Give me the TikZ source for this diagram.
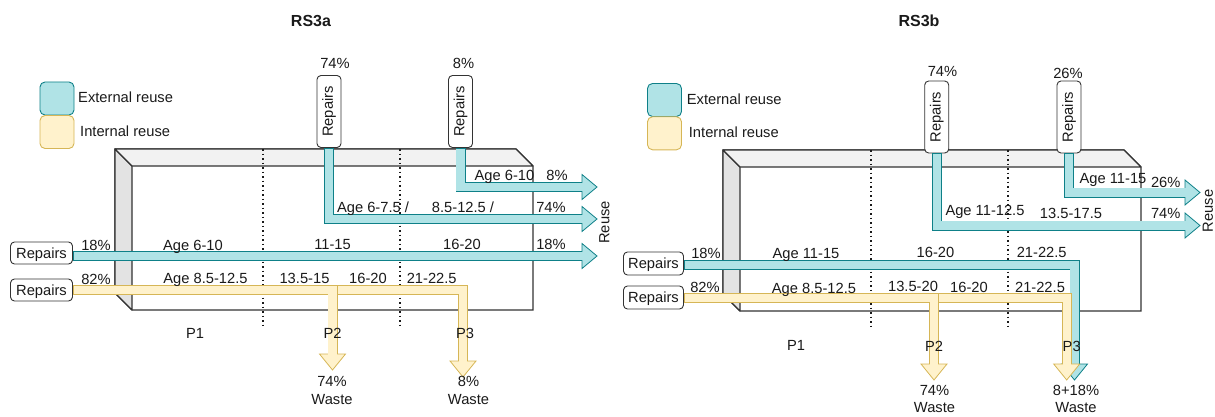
\documentclass[tikz,border=0pt]{standalone}
\usepackage{fontspec}
\usepackage{graphicx}
\setmainfont{Liberation Sans}
\usetikzlibrary{calc}

\definecolor{extfill}{HTML}{B0E3E6}
\definecolor{extline}{HTML}{0E8088}
\definecolor{intfill}{HTML}{FFF2CC}
\definecolor{intline}{HTML}{D6B656}
\definecolor{sideface}{HTML}{E3E3E3}
\definecolor{topface}{HTML}{F2F2F2}
\definecolor{edge}{HTML}{333333}
\definecolor{ink}{HTML}{1A1A1A}

% wide outlined flow arrows: #1 colour prefix, #2 path up to the last bend, #3 tip
\newcommand\flexR[3]{%
  \draw[#1out] #2 -- ($(#3)+(-15,0)$);
  \filldraw[#1head] ($(#3)+(-15,-12.5)$) -- (#3) -- ($(#3)+(-15,12.5)$) -- cycle;
  \draw[#1in] #2 -- ($(#3)+(-14,0)$);}
\newcommand\flexD[3]{%
  \draw[#1out] #2 -- ($(#3)+(0,-16)$);
  \filldraw[#1head] ($(#3)+(-13,-16)$) -- (#3) -- ($(#3)+(13,-16)$) -- cycle;
  \draw[#1in] #2 -- ($(#3)+(0,-15)$);}

\begin{document}
\begin{tikzpicture}[x=1pt, y=-1pt,
  txt/.style={font=\fontsize{14.7}{17.3}\selectfont, inner sep=0pt, text height=10.5pt, text depth=0pt, text=ink},
  ttl/.style={font=\fontsize{16}{19}\selectfont\bfseries, inner sep=0pt, text height=11.5pt, text depth=0pt, text=ink},
  repbox/.style={txt, draw=edge, fill=white, rounded corners=4pt, line width=0.9pt, minimum width=62pt, minimum height=22pt},
  vbox/.style={draw=edge, fill=white, rounded corners=4pt, line width=0.9pt, minimum width=24pt, minimum height=72pt, inner sep=0pt, font=\fontsize{14.7}{17.3}\selectfont, text=ink},
  legext/.style={draw=extline, fill=extfill, rounded corners=5pt, line width=0.9pt, minimum width=34pt, minimum height=33pt},
  legint/.style={draw=intline, fill=intfill, rounded corners=5pt, line width=0.9pt, minimum width=34pt, minimum height=33pt},
  dots/.style={line width=1.5pt, dash pattern=on 1.5pt off 3pt, draw=ink},
  extout/.style={draw=extline, line width=10pt},
  extin/.style={draw=extfill, line width=8.4pt, shorten <=0.8pt},
  exthead/.style={draw=extline, fill=extfill, line width=0.8pt, line join=miter},
  intout/.style={draw=intline, line width=10pt},
  intin/.style={draw=intfill, line width=8.4pt, shorten <=0.8pt},
  inthead/.style={draw=intline, fill=intfill, line width=0.8pt, line join=miter},
  cubebox/.pic={
    \filldraw[draw=edge, fill=white, line width=1.1pt] (0,0) -- (401,0) -- (418,17) -- (418,161) -- (17,161) -- (0,144) -- cycle;
    \filldraw[draw=edge, fill=sideface, line width=1.1pt, line join=round] (0,0) -- (17,17) -- (17,161) -- (0,144) -- cycle;
    \filldraw[draw=edge, fill=topface, line width=1.1pt, line join=round] (0,0) -- (401,0) -- (418,17) -- (17,17) -- cycle;
  }
]
\useasboundingbox (0,0) rectangle (1215,417);

% ===================== RS3a =====================
\node[ttl] (titleA) at (311,21) {RS3a};
\node[legext] (legEA) at (57,98.5) {};
\node[legint] (legIA) at (57,132) {};
\node[txt, anchor=west] (legEAt) at (78,97) {External reuse};
\node[txt, anchor=west] (legIAt) at (80,131) {Internal reuse};

\pic at (115,149) {cubebox};
\draw[dots] (263,149) -- (263,325);
\draw[dots] (400,149) -- (400,325);

\node[vbox] (tA1) at (329,111.5) {\rotatebox{90}{Repairs}};
\node[vbox] (tA2) at (460.5,111.5) {\rotatebox{90}{Repairs}};
\node[repbox] (rA1) at (41.5,253) {Repairs};
\node[repbox] (rA2) at (41.5,290) {Repairs};

\coordinate (eA1) at (597,256);
\coordinate (eA2) at (597,219);
\coordinate (eA3) at (597,187);
\coordinate (wA2) at (332.5,370);
\coordinate (wA3) at (463,377);
\coordinate (jA) at (337,290);

\flexR{ext}{(rA1.east |- eA1)}{eA1}
\flexR{ext}{(tA1.south) -- (tA1.south |- eA2)}{eA2}
\flexR{ext}{(tA2.south) -- (tA2.south |- eA3)}{eA3}
\flexD{int}{(rA2.east) -- (rA2.east -| wA2)}{wA2}
\flexD{int}{(jA) -- (jA -| wA3)}{wA3}

\node[txt] (pA1) at (335,63) {74\%};
\node[txt] (pA2) at (463.5,63) {8\%};
\node[txt] (pA3) at (96,245) {18\%};
\node[txt] (pA4) at (96,279) {82\%};

\node[txt] (aA1) at (193,245) {Age 6-10};
\node[txt] (aA2) at (332.5,244) {11-15};
\node[txt] (aA3) at (462,244) {16-20};
\node[txt] (aA4) at (551,244) {18\%};
\node[txt] (bA1) at (205.5,278) {Age 8.5-12.5};
\node[txt] (bA2) at (304.5,278) {13.5-15};
\node[txt] (bA3) at (368,278) {16-20};
\node[txt] (bA4) at (431.7,278) {21-22.5};
\node[txt] (cA1) at (373,207) {Age 6-7.5 /};
\node[txt] (cA2) at (463,207) {8.5-12.5 /};
\node[txt] (cA3) at (551,207) {74\%};
\node[txt] (dA1) at (504.5,175) {Age 6-10};
\node[txt] (dA2) at (557,175) {8\%};
\node[txt, rotate=90] (reuseA) at (604,222.5) {Reuse};

\node[txt] (phA1) at (195,333) {P1};
\node[txt] (phA2) at (332.5,333) {P2};
\node[txt] (phA3) at (465,333) {P3};
% two-line labels: the node centre sits on the last line
\node[txt, align=center] (wasteA2) at (332,399) {74\%\\Waste};
\node[txt, align=center] (wasteA3) at (468.5,399) {8\%\\Waste};

% ===================== RS3b =====================
\node[ttl] (titleB) at (919,21) {RS3b};
\node[legext] (legEB) at (664.5,100) {};
\node[legint] (legIB) at (664.5,133.3) {};
\node[txt, anchor=west] (legEBt) at (686.7,99.3) {External reuse};
\node[txt, anchor=west] (legIBt) at (688.7,132.7) {Internal reuse};

\pic at (723,150) {cubebox};
\draw[dots] (871,150) -- (871,327);
\draw[dots] (1008,150) -- (1008,327);

\node[vbox] (tB1) at (936.7,117) {\rotatebox{90}{Repairs}};
\node[vbox] (tB2) at (1069,117) {\rotatebox{90}{Repairs}};
\node[repbox, minimum width=60pt, minimum height=23pt] (rB1) at (653.5,263.5) {Repairs};
\node[repbox, minimum width=60pt, minimum height=23pt] (rB2) at (653.5,297.5) {Repairs};

\coordinate (kB1) at (1074.5,265);
\coordinate (wB1) at (1074.5,380);
\coordinate (eB2) at (1200,225.5);
\coordinate (eB3) at (1200,192.5);
\coordinate (wB2) at (934,380);
\coordinate (wB3) at (1066.7,380);
\coordinate (jB) at (938.5,298);

\flexD{ext}{(rB1.east |- kB1) -- (kB1)}{wB1}
\flexR{ext}{(tB1.south) -- (tB1.south |- eB2)}{eB2}
\flexR{ext}{(tB2.south) -- (tB2.south |- eB3)}{eB3}
\flexD{int}{(rB2.east |- jB) -- (jB -| wB2)}{wB2}
\flexD{int}{(jB) -- (jB -| wB3)}{wB3}

\node[txt] (pB1) at (942.5,71) {74\%};
\node[txt] (pB2) at (1068,73) {26\%};
\node[txt] (pB3) at (706,253.3) {18\%};
\node[txt] (pB4) at (705,287.7) {82\%};

\node[txt] (aB1) at (806,253.3) {Age 11-15};
\node[txt] (aB2) at (935.5,252.3) {16-20};
\node[txt] (aB3) at (1041.7,252) {21-22.5};
\node[txt] (bB1) at (814,288.3) {Age 8.5-12.5};
\node[txt] (bB2) at (913,286.7) {13.5-20};
\node[txt] (bB3) at (969,287) {16-20};
\node[txt] (bB4) at (1040,287) {21-22.5};
\node[txt] (cB1) at (985,210.7) {Age 11-12.5};
\node[txt] (cB2) at (1071,213.3) {13.5-17.5};
\node[txt] (cB3) at (1165.7,213.3) {74\%};
\node[txt] (dB1) at (1113,178.3) {Age 11-15};
\node[txt] (dB2) at (1165.7,182.3) {26\%};
\node[txt, rotate=90] (reuseB) at (1207.5,211) {Reuse};

\node[txt] (phB1) at (796,345) {P1};
\node[txt] (phB2) at (934,346) {P2};
\node[txt] (phB3) at (1071.7,346) {P3};
\node[txt, align=center] (wasteB2) at (934.5,407.3) {74\%\\Waste};
\node[txt, align=center] (wasteB3) at (1076,407.3) {8+18\%\\Waste};
\end{tikzpicture}
\end{document}
